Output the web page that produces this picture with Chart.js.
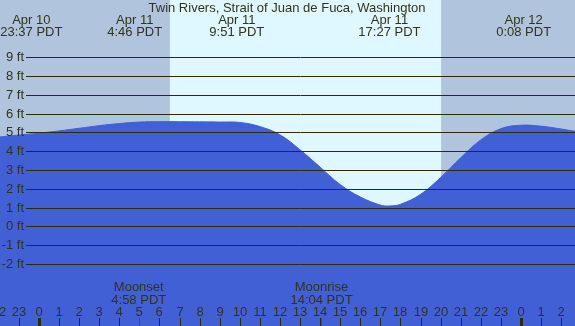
<!DOCTYPE html>
<html>
<head>
<meta charset="utf-8">
<script src="https://cdn.jsdelivr.net/npm/chart.js@4.4.1/dist/chart.umd.min.js"></script>
<style>
  html, body { margin: 0; padding: 0; background: #fff; overflow: hidden; }
</style>
</head>
<body>
<canvas id="tide" width="575" height="326"></canvas>
<script>
// tide height (ft), hours from Apr 11 0:00
const tideHours = [-2, -1, 0, 1, 2, 3, 4, 5, 6, 7, 8, 9, 10, 11, 12, 13, 14, 15, 16, 17, 17.45, 18, 19, 20, 21, 22, 23, 24, 25, 26, 27]
const tideFeet  = [4.75, 4.86, 4.96, 5.08, 5.22, 5.36, 5.47, 5.55, 5.57, 5.57, 5.56, 5.55, 5.53, 5.31, 4.87, 4.07, 3.15, 2.22, 1.56, 1.13, 1.08, 1.17, 1.7, 2.6, 3.65, 4.6, 5.2, 5.38, 5.33, 5.18, 5.0]

// high / low tide events along the top
const eventHours = [-0.383, 4.767, 9.85, 17.45, 24.133]
const eventDates = ['Apr 10', 'Apr 11', 'Apr 11', 'Apr 11', 'Apr 12']
const eventTimes = ['23:37 PDT', '4:46 PDT', '9:51 PDT', '17:27 PDT', '0:08 PDT']

// moon events along the bottom
const moonHours = [4.967, 14.067]
const moonNames = ['Moonset', 'Moonrise']
const moonTimes = ['4:58 PDT', '14:04 PDT']

// daylight
const sunrise = 6.52
const sunset = 20.02

const feetTicks = [-2, -1, 0, 1, 2, 3, 4, 5, 6, 7, 8, 9]
const hourTicks = []
for (let h = -2; h <= 27; h++) hourTicks.push(h)

const title = 'Twin Rivers, Strait of Juan de Fuca, Washington'

const xMin = -1.942, xMax = 26.69
const yMin = -5.31, yMax = 12.05

const nightColor = '#b0c4de'
const dayColor = '#dff7ff'
const waterColor = '#4160d6'
const inkColor = '#333318'
const lineColor = '#2c2c08'
const font = '13px "Liberation Sans", Arial, sans-serif'

const tidePlugin = {
  id: 'tideDecor',
  beforeDatasetsDraw(chart) {
    const { ctx, chartArea, scales } = chart
    const x = scales.x
    const top = chartArea.top, h = chartArea.bottom - chartArea.top
    const pRise = x.getPixelForValue(sunrise)
    const pSet = x.getPixelForValue(sunset)
    ctx.save()
    ctx.fillStyle = nightColor
    ctx.fillRect(chartArea.left, top, pRise - chartArea.left, h)
    ctx.fillRect(pSet, top, chartArea.right - pSet, h)
    ctx.fillStyle = dayColor
    ctx.fillRect(pRise, top, pSet - pRise, h)
    ctx.restore()
  },
  afterDatasetsDraw(chart) {
    const { ctx, chartArea, scales } = chart
    const x = scales.x, y = scales.y
    ctx.save()

    // horizontal grid + feet labels
    ctx.strokeStyle = lineColor
    ctx.lineWidth = 1
    ctx.font = font
    ctx.fillStyle = inkColor
    ctx.textAlign = 'right'
    ctx.textBaseline = 'middle'
    feetTicks.forEach(v => {
      const py = Math.round(y.getPixelForValue(v)) + 0.5
      ctx.beginPath()
      ctx.moveTo(26, py)
      ctx.lineTo(chartArea.right, py)
      ctx.stroke()
      ctx.fillText(v + ' ft', 24, py)
    })

    // title
    ctx.textAlign = 'center'
    ctx.textBaseline = 'alphabetic'
    ctx.fillText(title, 287, 12)

    // tide events
    eventHours.forEach((t, i) => {
      const px = x.getPixelForValue(t)
      ctx.fillText(eventDates[i], px, 24)
      ctx.fillText(eventTimes[i], px, 36)
    })

    // moon events
    moonHours.forEach((t, i) => {
      const px = x.getPixelForValue(t)
      ctx.fillText(moonNames[i], px, 291)
      ctx.fillText(moonTimes[i], px, 304)
    })

    // hour labels and ticks
    hourTicks.forEach(h => {
      const px = Math.round(x.getPixelForValue(h))
      const lab = ((h % 24) + 24) % 24
      ctx.fillText(String(lab), px, 316)
      ctx.fillStyle = lineColor
      if (lab === 0) ctx.fillRect(px - 1, 318, 3, 8)
      else ctx.fillRect(px, 318, 1, 8)
      ctx.fillStyle = inkColor
    })
    ctx.fillStyle = '#ff0000'
    moonHours.forEach(t => {
      const px = Math.round(x.getPixelForValue(t))
      ctx.fillRect(px, 318, 1, 8)
    })

    ctx.restore()
  }
}

const ctx = document.getElementById('tide').getContext('2d')
new Chart(ctx, {
  type: 'line',
  data: {
    datasets: [{
      data: tideHours.map((h, i) => ({ x: h, y: tideFeet[i] })),
      fill: 'start',
      backgroundColor: waterColor,
      borderColor: waterColor,
      borderWidth: 1,
      pointRadius: 0,
      tension: 0.4
    }]
  },
  options: {
    responsive: false,
    devicePixelRatio: 1,
    animation: false,
    layout: { padding: 0 },
    plugins: { legend: { display: false }, tooltip: { enabled: false } },
    scales: {
      x: { type: 'linear', display: false, min: xMin, max: xMax },
      y: { display: false, min: yMin, max: yMax }
    }
  },
  plugins: [tidePlugin]
})
</script>
</body>
</html>
